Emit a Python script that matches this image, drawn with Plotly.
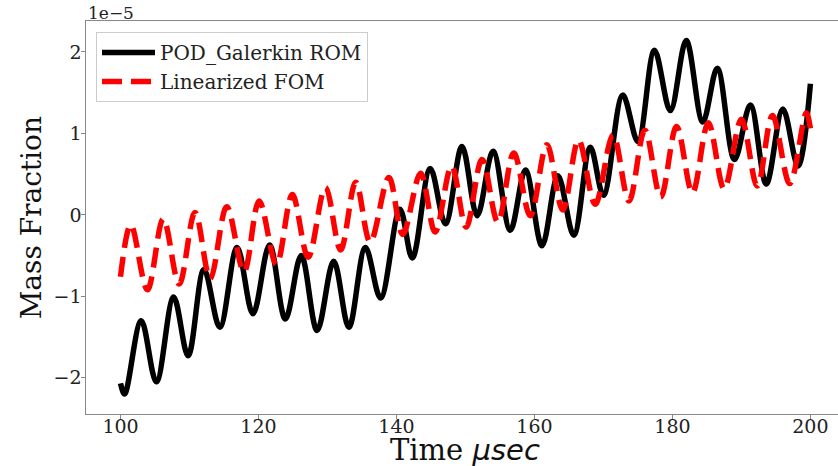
import plotly.graph_objects as go

# Time (usec) and mass fraction (x1e-5): extrema of each curve
rom_t = [100.0, 100.6, 103.0, 105.2, 107.7, 109.8, 112.1, 114.4, 116.9, 119.2,
         121.6, 123.9, 126.2, 128.5, 130.9, 133.1, 135.5, 137.7, 140.5, 142.3,
         144.9, 147.1, 149.5, 151.7, 154.0, 156.5, 158.7, 161.1, 163.4, 165.7,
         168.1, 170.0, 172.8, 175.0, 177.4, 179.7, 182.0, 184.4, 186.5, 189.0,
         191.3, 193.6, 196.0, 198.2, 200.0]
rom_v = [-2.07, -2.20, -1.30, -2.05, -1.01, -1.73, -0.67, -1.38, -0.40, -1.215,
         -0.37, -1.28, -0.50, -1.42, -0.57, -1.38, -0.40, -1.02, 0.07, -0.53,
         0.57, -0.11, 0.84, -0.01, 0.78, -0.19, 0.55, -0.38, 0.48, -0.25,
         0.83, 0.24, 1.47, 0.90, 2.02, 1.28, 2.14, 1.14, 1.80, 0.68,
         1.35, 0.38, 1.30, 0.60, 1.61]

fom_t = [100.0, 101.5, 103.9, 106.2, 108.5, 110.8, 113.0, 115.4, 117.9, 120.1,
         122.6, 124.9, 127.2, 129.7, 131.9, 134.1, 136.2, 138.9, 140.9, 143.5,
         145.6, 148.0, 150.1, 152.4, 154.7, 157.0, 159.4, 161.8, 164.1, 166.4,
         168.8, 171.4, 173.7, 176.0, 178.3, 180.6, 182.9, 185.2, 187.5, 190.0,
         192.3, 194.5, 197.0, 199.4, 200.0]
fom_v = [-0.76, -0.12, -0.92, -0.05, -0.85, 0.03, -0.78, 0.10, -0.70, 0.17,
         -0.61, 0.25, -0.52, 0.335, -0.43, 0.40, -0.335, 0.46, -0.24, 0.51,
         -0.21, 0.60, -0.15, 0.68, -0.09, 0.76, -0.01, 0.86, 0.06, 0.92,
         0.13, 0.98, 0.17, 1.04, 0.22, 1.085, 0.27, 1.13, 0.32, 1.175,
         0.355, 1.22, 0.385, 1.25, 1.06]

x_ticks = [100, 120, 140, 160, 180, 200]
y_ticks = [-2, -1, 0, 1, 2]

SERIF = "DejaVu Serif"

fig = go.Figure()
fig.add_trace(go.Scatter(
    x=rom_t, y=rom_v, mode="lines", name="POD_Galerkin ROM",
    line=dict(color="black", width=5.5, shape="spline", smoothing=1.0),
    legendgroup="a"))
fig.add_trace(go.Scatter(
    x=fom_t, y=fom_v, mode="lines", name="Linearized FOM",
    line=dict(color="red", width=5.5, shape="spline", smoothing=1.0, dash="20px,9px"),
    legendgroup="b"))

fig.update_layout(
    width=838, height=466,
    margin=dict(l=86, r=0, t=21, b=52),
    paper_bgcolor="white", plot_bgcolor="white",
    font=dict(family=SERIF, size=19, color="#222"),
    showlegend=True,
    legend=dict(
        x=0.0133, y=0.972, xanchor="left", yanchor="top",
        bgcolor="rgba(255,255,255,0.85)", bordercolor="#cccccc", borderwidth=1,
        font=dict(family=SERIF, size=20, color="#222"),
        tracegroupgap=0, traceorder="grouped", itemwidth=53,
    ),
    xaxis=dict(
        range=[95, 204.0], tickvals=x_ticks, ticks="outside", ticklen=3.5,
        tickcolor="#888", showline=True, linecolor="#888", linewidth=1.2,
        mirror=True, showgrid=False, zeroline=False, ticklabelstandoff=-8,
        tickfont=dict(family=SERIF, size=19, color="#222"),
    ),
    yaxis=dict(
        range=[-2.445, 2.38], tickvals=y_ticks, ticks="outside", ticklen=3.5,
        tickcolor="#888", showline=True, linecolor="#888", linewidth=1.2,
        showgrid=False, zeroline=False, ticklabelstandoff=-4,
        tickfont=dict(family=SERIF, size=19, color="#222"),
    ),
    annotations=[
        dict(text="Time <i><span style='font-family:DejaVu Sans'>μsec</span></i>",
             x=150, xref="x", y=-0.092, yref="paper",
             xanchor="center", yanchor="middle", showarrow=False,
             font=dict(family=SERIF, size=29, color="#111")),
        dict(text="Mass Fraction", x=-0.072, xref="paper", y=0.5, yref="paper",
             xanchor="center", yanchor="middle", textangle=-90, showarrow=False,
             font=dict(family=SERIF, size=28, color="#111")),
        dict(text="1e−5", x=0, xref="paper", y=1.02, yref="paper",
             xanchor="left", yanchor="middle", showarrow=False,
             font=dict(family=SERIF, size=17, color="#222")),
    ],
)

fig.write_html("out.html")
